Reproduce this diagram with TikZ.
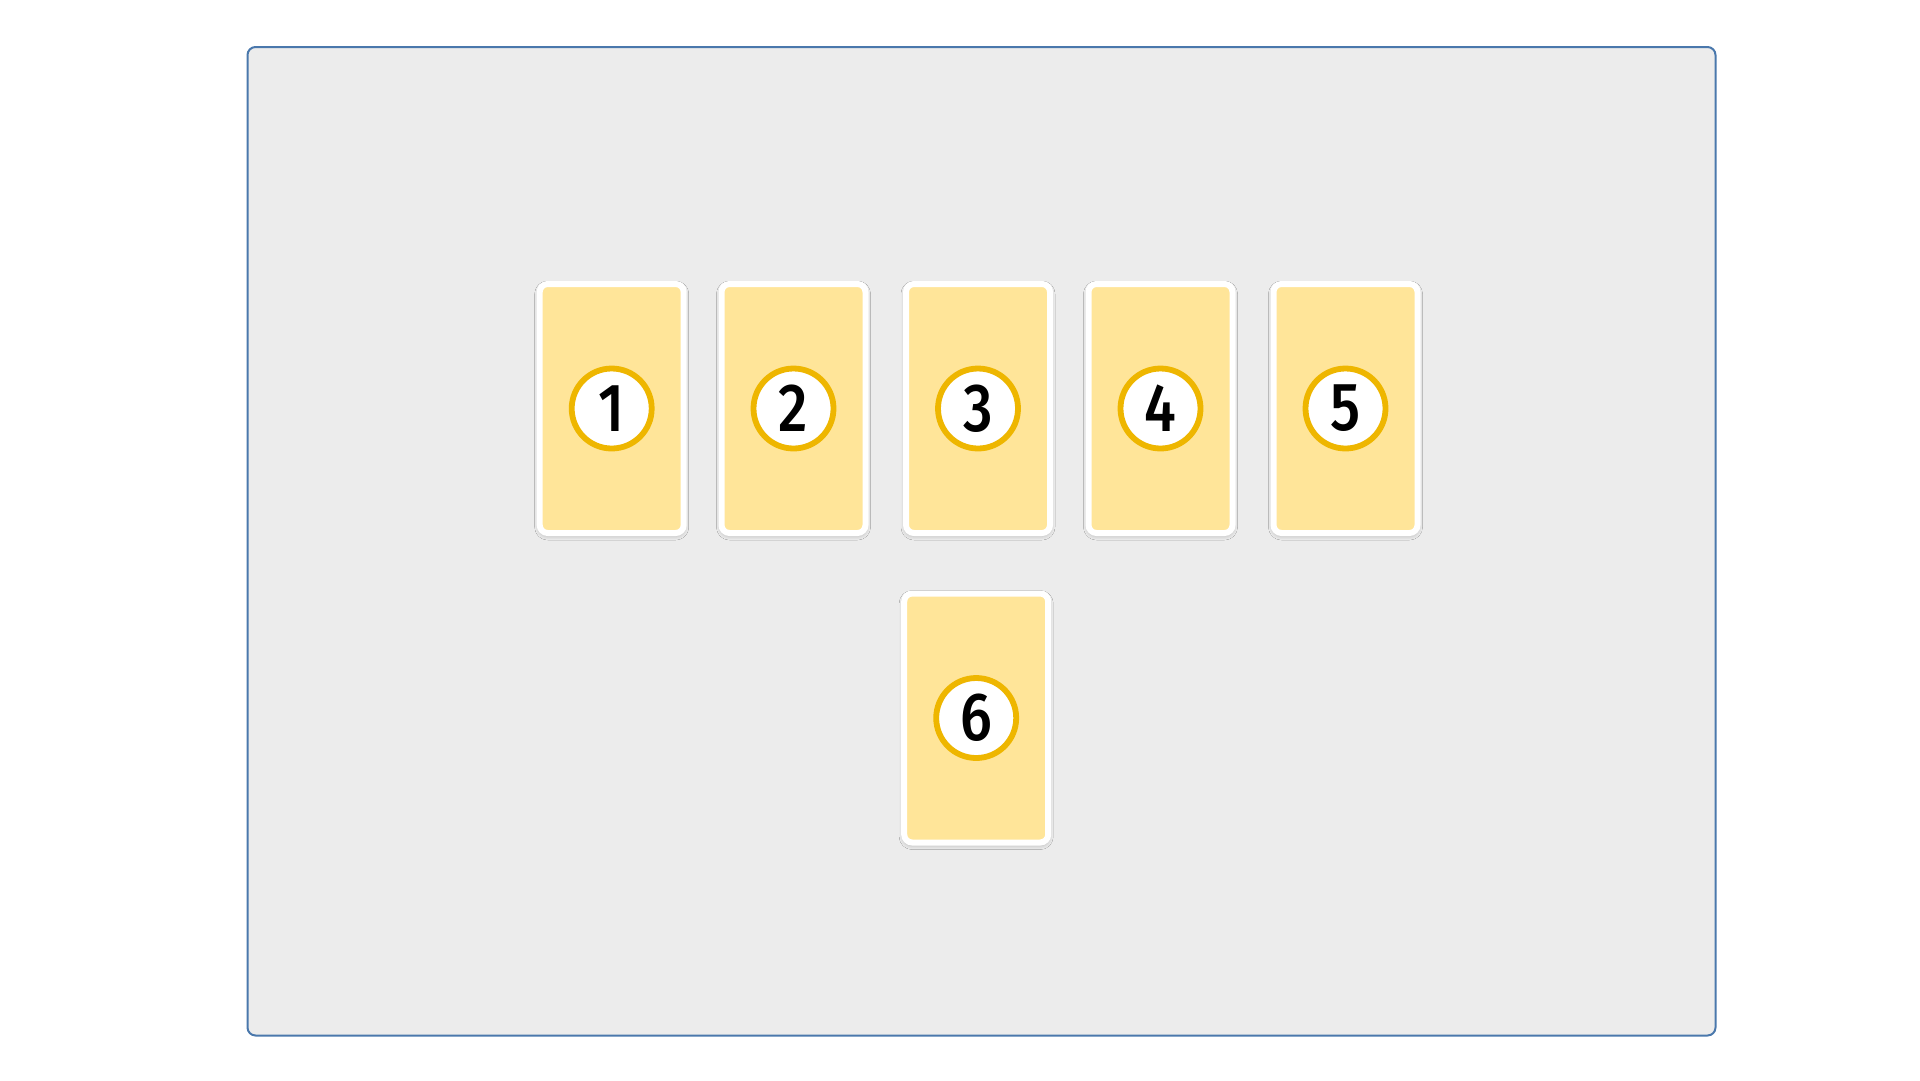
\documentclass[tikz,border=0pt]{standalone}
\usepackage{fontspec}
\setmainfont{Fira Sans}[UprightFont=* Medium,FakeStretch=0.85]
\usetikzlibrary{shadows.blur}
\definecolor{panelgray}{RGB}{236,236,236}
\definecolor{panelblue}{RGB}{74,120,172}
\definecolor{cardyellow}{RGB}{255,229,153}
\definecolor{ringgold}{RGB}{238,182,0}

\begin{document}
\begin{tikzpicture}[x=1pt,y=-1pt,
    card/.style={rectangle,rounded corners=8pt,fill=cardyellow,draw=white,line width=6pt,
      minimum width=144pt,minimum height=249pt,inner sep=0pt,
      blur shadow={shadow xshift=0pt,shadow yshift=-2pt,shadow blur radius=5pt,shadow blur steps=10,shadow opacity=30}},
    badge/.style={circle,fill=white,draw=ringgold,line width=5.8pt,minimum size=80pt,inner sep=0pt,
      font=\fontsize{68}{68}\selectfont}]
  \useasboundingbox (0,0) rectangle (1920,1080);
  \draw[panelblue,fill=panelgray,line width=2pt,rounded corners=8pt] (247.5,47) rectangle (1715.5,1035.5);
  % top row and the one card below it
  \foreach \i/\x/\y in {1/611.7/408.5, 2/793.5/408.5, 3/978/408.5, 4/1160.5/408.5, 5/1345.5/408.5, 6/976.2/718}{
    \node[card] (c\i) at (\x,\y) {};
    \node[badge] (n\i) at (c\i) {\i};
  }
\end{tikzpicture}
\end{document}
